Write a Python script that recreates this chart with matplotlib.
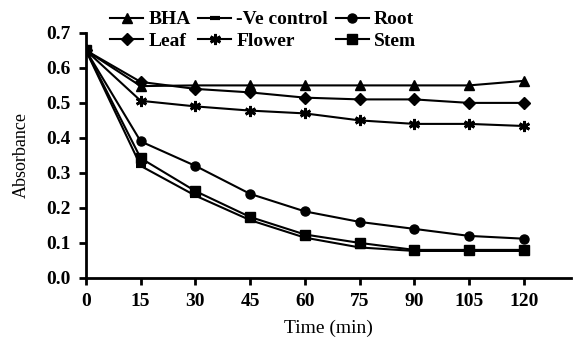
import matplotlib
matplotlib.use("Agg")
import matplotlib.pyplot as plt

plt.rcParams['font.family'] = ['Liberation Serif', 'DejaVu Serif']
plt.rcParams['font.weight'] = 'bold'

# Time points and absorbance values
time_min = [0, 15, 30, 45, 60, 75, 90, 105, 120]
bha = [0.65, 0.548, 0.55, 0.55, 0.55, 0.55, 0.55, 0.55, 0.563]
ve_control = [0.65, 0.32, 0.235, 0.165, 0.115, 0.087, 0.077, 0.077, 0.077]
root = [0.65, 0.39, 0.32, 0.24, 0.19, 0.16, 0.14, 0.12, 0.112]
leaf = [0.65, 0.56, 0.54, 0.53, 0.515, 0.51, 0.51, 0.50, 0.50]
flower = [0.65, 0.506, 0.49, 0.478, 0.47, 0.45, 0.44, 0.44, 0.434]
stem = [0.65, 0.342, 0.248, 0.174, 0.124, 0.10, 0.08, 0.08, 0.08]

fig = plt.figure(figsize=(5.73, 3.5), dpi=100)
ax = fig.add_axes([0.150, 0.206, 0.847, 0.700])

lw = 1.5
ax.plot(time_min, bha, color='black', lw=lw, marker='^', ms=7.5, label='BHA')
ax.plot(time_min, leaf, color='black', lw=lw, marker='D', ms=6, label='Leaf')
ax.plot(time_min, ve_control, color='black', lw=lw, marker='_', ms=7, mew=3, label='-Ve control')
ax.plot(time_min, flower, color='black', lw=lw, marker=(6, 2, 0), ms=8, mew=2, label='Flower')
ax.plot(time_min, root, color='black', lw=lw, marker='o', ms=6.5, label='Root')
ax.plot(time_min, stem, color='black', lw=lw, marker='s', ms=6.5, label='Stem')

ax.set_xlim(0, 133)
ax.set_ylim(0, 0.7)
ax.set_xticks(time_min)
ax.set_yticks([0, 0.1, 0.2, 0.3, 0.4, 0.5, 0.6, 0.7])
ax.set_yticklabels(['0.0', '0.1', '0.2', '0.3', '0.4', '0.5', '0.6', '0.7'])
ax.spines['top'].set_visible(False)
ax.spines['right'].set_visible(False)
ax.spines['left'].set_linewidth(2)
ax.spines['bottom'].set_linewidth(2)
ax.tick_params(direction='out', length=5, width=2, labelsize=14, pad=6)
ax.set_xlabel('Time (min)', fontsize=14, labelpad=7)
ax.set_ylabel('Absorbance', fontsize=13, fontweight='normal', labelpad=12)

ax.legend(loc='upper center', bbox_to_anchor=(0.365, 1.13), ncol=3, frameon=False,
          fontsize=14, handlelength=1.7, handletextpad=0.25, columnspacing=0.4,
          labelspacing=0.2, borderpad=0)

plt.savefig("out.png", dpi=100)
